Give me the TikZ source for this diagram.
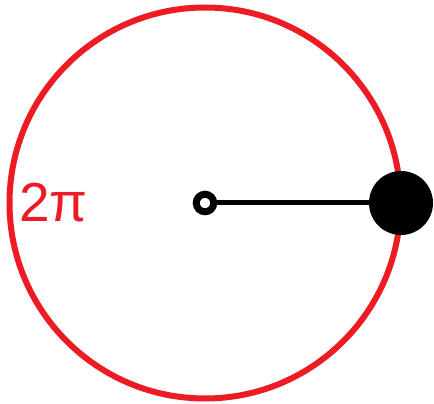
\documentclass[tikz,border=0pt]{standalone}
\usepackage{fontspec}
\setmainfont{Liberation Sans}
\definecolor{cred}{RGB}{237,28,36}
\begin{document}
\begin{tikzpicture}[x=1pt,y=1pt,
  ring/.style={draw=cred,line width=6pt},
  hub/.style={circle,draw=black,fill=white,line width=7pt,minimum size=17.5pt,inner sep=0pt,outer sep=0pt},
  ball/.style={circle,fill=black,minimum size=64pt,inner sep=0pt,outer sep=0pt},
  lbl/.style={text=cred,font=\fontsize{55}{60}\selectfont,inner sep=0pt,anchor=base}]
\useasboundingbox (0,0) rectangle (434,404);
\coordinate (c) at (205,201);
\draw[ring] (c) circle (195.5);
\node[ball] (b) at (401,201) {};
\node[hub] (h) at (c) {};
\draw[line width=5pt] (h.east) -- (b.center);
\node[lbl] (t) at (53.5,182) {2π};
\end{tikzpicture}
\end{document}
